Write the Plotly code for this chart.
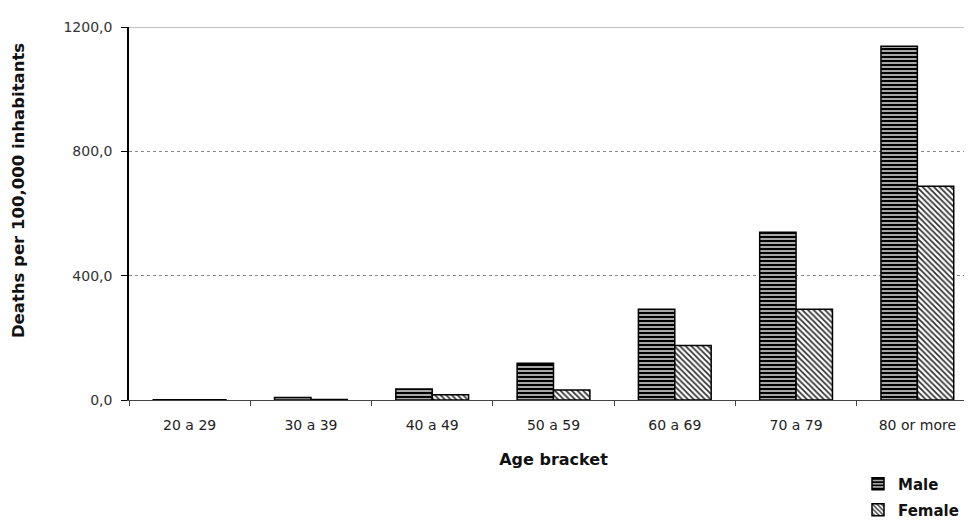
import plotly.graph_objects as go

categories = ["20 a 29", "30 a 39", "40 a 49", "50 a 59", "60 a 69", "70 a 79", "80 or more"]
male = [1.0, 8.0, 35.0, 118.0, 292.0, 540.0, 1138.0]
female = [0.5, 2.0, 17.0, 32.0, 175.0, 292.0, 688.0]
y_ticks = [0, 400, 800, 1200]

TICKFONT = "DejaVu Sans, Liberation Sans, sans-serif"
BOLDFONT = "DejaVu Sans, Liberation Sans, sans-serif"

# the page shows the figure with an 8px body offset
W, H = 972, 512

fig = go.Figure()
fig.add_trace(go.Bar(
    x=categories, y=male, name="<b>Male</b>", legend="legend",
    marker=dict(color="#000000",
                line=dict(color="#000000", width=1.5),
                pattern=dict(shape="-", fgcolor="#000000", bgcolor="#a8a8a8",
                             size=4, solidity=0.5, fillmode="replace")),
))
fig.add_trace(go.Bar(
    x=categories, y=female, name="<b>Female</b>", legend="legend2",
    marker=dict(color="#333333",
                line=dict(color="#000000", width=1.5),
                pattern=dict(shape="\\", fgcolor="#333333", bgcolor="#ffffff",
                             size=4, solidity=0.45, fillmode="replace")),
))

legend_common = dict(xref="container", yref="container", x=850 / W,
                     xanchor="left", yanchor="middle",
                     font=dict(family=BOLDFONT, size=15, color="#111111"),
                     itemwidth=30, bgcolor="rgba(0,0,0,0)")

fig.update_layout(
    width=W, height=H,
    margin=dict(l=121, r=2, t=19, b=120, autoexpand=False),
    paper_bgcolor="white", plot_bgcolor="white",
    barmode="group", bargap=0.4, bargroupgap=0,
    separators=", ",
    font=dict(family=TICKFONT, size=12, color="#222222"),
    showlegend=True,
    legend=dict(y=1 - 476 / H, **legend_common),
    legend2=dict(y=1 - 502 / H, **legend_common),
    xaxis=dict(
        showline=True, linecolor="#444444", linewidth=1.2, mirror=False,
        ticks="outside", tickson="boundaries", ticklen=5, tickcolor="#444444",
        ticklabelstandoff=12,
        tickfont=dict(family=TICKFONT, size=14, color="#222222"),
        title=dict(text="<b>Age bracket</b>", font=dict(family=BOLDFONT, size=16, color="#111111"),
                   standoff=21),
        showgrid=False,
    ),
    yaxis=dict(
        range=[0, 1200], tickvals=y_ticks, tickformat=".1f",
        showline=True, linecolor="#000000", linewidth=1.5,
        ticks="outside", ticklen=6, tickcolor="#000000",
        ticklabelstandoff=6,
        tickfont=dict(family=TICKFONT, size=14, color="#333333"),
        showgrid=True, gridcolor="#888888", griddash="dot", gridwidth=1,
        zeroline=False,
    ),
    annotations=[dict(
        text="<b>Deaths per 100,000 inhabitants</b>", textangle=-90,
        xref="paper", yref="paper", x=0, y=0.56, xanchor="center", yanchor="middle",
        xshift=-111, showarrow=False,
        font=dict(family=BOLDFONT, size=16.5, color="#111111"),
    )],
)
# solid top gridline at the axis maximum
fig.add_hline(y=y_ticks[-1], line=dict(color="#888888", width=1.2))

fig.write_html("out.html")
